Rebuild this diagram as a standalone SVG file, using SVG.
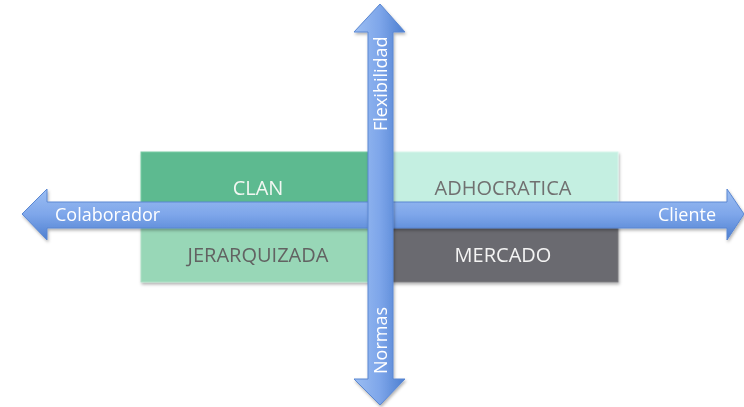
<svg xmlns="http://www.w3.org/2000/svg" width="744" height="407" viewBox="0 0 744 407">
<style>
.lbl{font-family:"Open Sans","Liberation Sans",sans-serif;font-size:20px;text-anchor:middle}
.al{font-family:"Open Sans","Liberation Sans",sans-serif;font-size:18px;fill:#ffffff}
.box{stroke-width:1}
</style>
<defs>
<linearGradient id="gh" x1="0" y1="0" x2="0" y2="1">
<stop offset="0" stop-color="#9cbef2"/>
<stop offset="0.5" stop-color="#7ea6ea"/>
<stop offset="1" stop-color="#4d7fd0"/>
</linearGradient>
<linearGradient id="gv" x1="0" y1="0" x2="1" y2="0">
<stop offset="0" stop-color="#9cbef2"/>
<stop offset="0.5" stop-color="#7ea6ea"/>
<stop offset="1" stop-color="#4d7fd0"/>
</linearGradient>
<filter id="sh" x="-10%" y="-10%" width="120%" height="130%">
<feDropShadow dx="1" dy="2" stdDeviation="1.5" flood-color="#000" flood-opacity="0.3"/>
</filter>
</defs>
<g id="clan" filter="url(#sh)">
<rect class="box" x="141" y="152" width="240" height="64" fill="#5dba90" stroke="#79cba3"/>
<text class="lbl" x="258" y="195" fill="#f2f7f2">CLAN</text>
</g>
<g id="adhocratica" filter="url(#sh)">
<rect class="box" x="381" y="152" width="237" height="64" fill="#c4efe1" stroke="#d8f5eb"/>
<text class="lbl" x="503" y="195" fill="#707070">ADHOCRATICA</text>
</g>
<g id="jerarquizada" filter="url(#sh)">
<rect class="box" x="141" y="216" width="240" height="66" fill="#98d7b7" stroke="#aee0c6"/>
<text class="lbl" x="258" y="262" fill="#626262">JERARQUIZADA</text>
</g>
<g id="mercado" filter="url(#sh)">
<rect class="box" x="381" y="216" width="237" height="66" fill="#6b6a6f" stroke="#7d7c81"/>
<text class="lbl" x="503" y="262" fill="#f4f4f4">MERCADO</text>
</g>
<g id="connectors">
<g id="horizontal-axis" filter="url(#sh)">
<polygon points="22,214 47,189 47,202 727,202 727,189 744,214 727,240 727,228 47,228 47,240" fill="url(#gh)" stroke="#5a87d2" stroke-width="1"/>
<text class="al" x="55" y="221">Colaborador</text>
<text class="al" x="716" y="221" text-anchor="end">Cliente</text>
</g>
<g id="vertical-axis" filter="url(#sh)">
<polygon points="380,4 405,32 393,32 393,379 405,379 380,405 354,379 368,379 368,32 354,32" fill="url(#gv)" stroke="#5a87d2" stroke-width="1"/>
<text class="al" transform="translate(387,131) rotate(-90)">Flexibilidad</text>
<text class="al" transform="translate(387,374) rotate(-90)">Normas</text>
</g>
</g>
</svg>
